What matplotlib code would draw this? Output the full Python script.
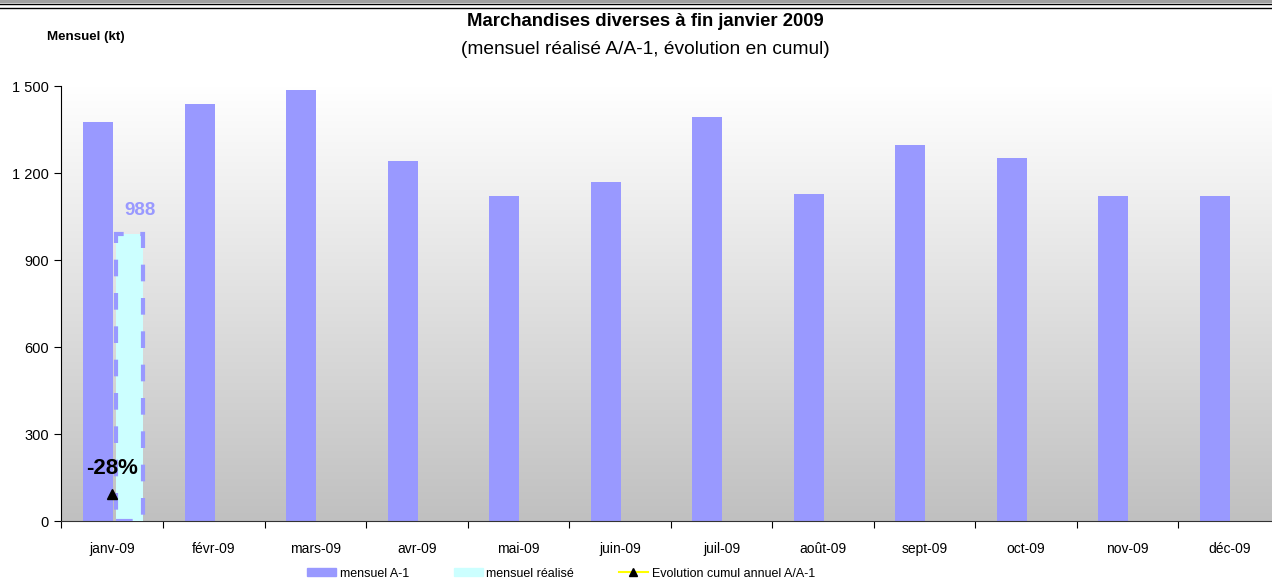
import matplotlib.pyplot as plt
import numpy as np
from matplotlib.lines import Line2D
from matplotlib.patches import Patch

plt.rcParams['font.family'] = ['Liberation Sans', 'DejaVu Sans']

months = ["janv-09", "févr-09", "mars-09", "avr-09", "mai-09", "juin-09",
          "juil-09", "août-09", "sept-09", "oct-09", "nov-09", "déc-09"]
mensuel_a1 = [1376, 1438, 1486, 1241, 1121, 1169, 1393, 1128, 1297, 1252, 1121, 1121]
mensuel_realise = [988]
evolution_pct = [-28]

lavender = "#9999ff"
cyan = "#ccffff"

fig = plt.figure(figsize=(12.72, 5.8), dpi=100)
ax = fig.add_axes([0.0483, 0.1017, 0.958, 0.75])

x = np.arange(len(months))

# gradient background
grad = np.linspace(0, 1, 256).reshape(-1, 1)
ax.imshow(grad, extent=[-0.5, 11.5, 0, 1500], aspect="auto", origin="lower",
          cmap=plt.matplotlib.colors.LinearSegmentedColormap.from_list("g", ["#c0c0c0", "#ffffff"]),
          zorder=0)

ax.bar(x - 0.14, mensuel_a1, width=0.295, color=lavender, zorder=2)
xr = x[:len(mensuel_realise)] + 0.17
ax.bar(xr, mensuel_realise, width=0.27, color=cyan, edgecolor=lavender,
       linewidth=3, linestyle=(0, (4, 4)), zorder=3)
for xi, v in zip(xr, mensuel_realise):
    ax.annotate(f"{v}", (xi + 0.1, v), xytext=(0, 11), textcoords="offset points",
                ha="center", va="bottom", color=lavender, fontsize=13.5, fontweight="bold")

ax.set_xlim(-0.5, 11.5)
ax.set_ylim(0, 1500)
ax.set_yticks([0, 300, 600, 900, 1200, 1500])
ax.set_yticklabels([f"{v:,}".replace(",", " ") for v in [0, 300, 600, 900, 1200, 1500]],
                   fontsize=10.5)
ax.set_xticks(np.arange(-0.5, 12, 1))
ax.set_xticklabels([])
ax.set_xticks(x, minor=True)
ax.set_xticklabels(months, minor=True, fontsize=10)
ax.tick_params(axis="x", which="minor", length=0, pad=15)
ax.tick_params(axis="x", which="major", length=5, direction="out")
ax.tick_params(axis="y", length=5, direction="out", pad=4)
for s in ["top", "right"]:
    ax.spines[s].set_visible(False)
ax.spines["left"].set_color("black")
ax.spines["bottom"].set_color("#333333")

# secondary axis for cumulative evolution
ax2 = ax.twinx()
ax2.set_ylim(-33, 48)
ax2.plot(x[:len(evolution_pct)], evolution_pct, marker="^", color="yellow",
         markerfacecolor="black", markeredgecolor="black", markersize=7, linestyle="-")
for xi, v in zip(x, evolution_pct):
    ax2.annotate(f"{v}%", (xi, v), xytext=(0, 11), textcoords="offset points",
                 ha="center", va="bottom", fontsize=16, fontweight="bold")
ax2.axis("off")

fig.text(0.507, 0.963, "Marchandises diverses à fin janvier 2009", ha="center", va="center",
         fontsize=13.3, fontweight="bold")
fig.text(0.507, 0.914, "(mensuel réalisé A/A-1, évolution en cumul)", ha="center", va="center",
         fontsize=13.8)
fig.text(0.037, 0.937, "Mensuel (kt)", ha="left", va="center", fontsize=9.6, fontweight="bold")

# top double border
fig.add_artist(Line2D([0, 1], [0.9985, 0.9985], color="#a0a0a0", linewidth=3))
fig.add_artist(Line2D([0, 1], [0.993, 0.993], color="black", linewidth=1))
fig.add_artist(Line2D([0, 1], [0.987, 0.987], color="black", linewidth=1))

handles = [Patch(color=lavender), Patch(color=cyan),
           Line2D([], [], color="yellow", marker="^", markerfacecolor="black",
                  markeredgecolor="black", markersize=6)]
fig.legend(handles, ["mensuel A-1", "mensuel réalisé", "Evolution cumul annuel A/A-1"],
           loc="center", bbox_to_anchor=(0.441, 0.011), ncol=3, frameon=False,
           fontsize=9, handlelength=2.3, handleheight=0.6, columnspacing=3.6,
           handletextpad=0.3)

fig.savefig("out.png", dpi=100)
